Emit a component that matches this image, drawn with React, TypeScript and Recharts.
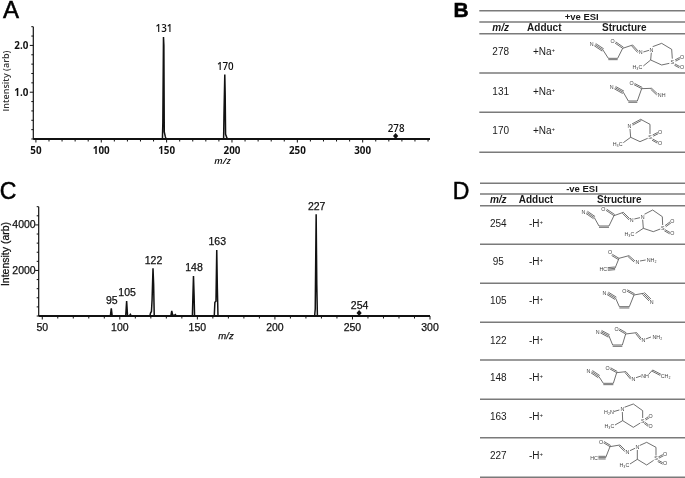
import { LineChart, Line, XAxis, YAxis } from 'recharts';

const FONT = '"Liberation Sans", Arial, sans-serif';
const FONT_A = '"Open Sans", Arial, sans-serif';
const INK = '#111';

// Panel A spectrum
const mzA = [48, 146.8, 147.1, 147.6, 147.9, 148.2, 149, 149.6, 193.6, 193.9, 194.5, 194.8, 195.1, 195.9, 196.5, 325.2, 351.5];
const intensityA = [0, 0, 0.35, 2.18, 2.0, 0.15, 0.05, 0, 0, 0.55, 1.38, 0.95, 0.1, 0.04, 0, 0, 0];
const labelsA = ['', '', '', '131', '', '', '', '', '', '', '170', '', '', '', '', '278', ''];
const markerA = [325.2];

// Panel C spectrum
const mzC = [47.7, 93.9, 94.5, 95.1, 103.8, 104.4, 105, 106.2, 106.8, 107.4, 119.4, 119.8, 120.4, 120.8, 121.4, 121.8, 122.2, 132.9, 133.5, 134.1, 135.2, 135.8, 136.4, 146.8, 147.1, 147.5, 147.9, 148.2, 160.9, 161.3, 162, 162.5, 162.9, 163.3, 225.6, 226, 226.6, 227, 227.4, 254.3, 300];
const intensityC = [0, 0, 340, 0, 0, 660, 0, 0, 70, 0, 0, 130, 200, 700, 2100, 1400, 0, 0, 220, 30, 30, 60, 0, 0, 800, 1760, 900, 0, 0, 600, 650, 2900, 1200, 0, 0, 300, 4470, 1400, 0, 0, 0];
const labelsC = ['', '', '95', '', '', '105', '', '', '', '', '', '', '', '', '122', '', '', '', '', '', '', '', '', '', '', '148', '', '', '', '', '', '163', '', '', '', '', '227', '', '', '254', ''];
const markerC = [254.3];

// axis ticks
const xTicksA = [50, 60, 70, 80, 90, 100, 110, 120, 130, 140, 150, 160, 170, 180, 190, 200, 210, 220, 230, 240, 250, 260, 270, 280, 290, 300, 310, 320, 330, 340, 350];
const xMajorA = [50, 100, 150, 200, 250, 300];
const yTicksA = [0, 0.2, 0.4, 0.6, 0.8, 1, 1.2, 1.4, 1.6, 1.8, 2, 2.2, 2.4];
const yMajorA = [1, 2];
const xTicksC = [50, 60, 70, 80, 90, 100, 110, 120, 130, 140, 150, 160, 170, 180, 190, 200, 210, 220, 230, 240, 250, 260, 270, 280, 290, 300];
const xMajorC = [50, 100, 150, 200, 250, 300];
const yTicksC = [0, 400, 800, 1200, 1600, 2000, 2400, 2800, 3200, 3600, 4000, 4400, 4800];
const yMajorC = [2000, 4000];

// Table text
const rowsB = [['278', '+Na'], ['131', '+Na'], ['170', '+Na']];
const rowsD = [['254', '-H'], ['95', '-H'], ['105', '-H'], ['122', '-H'], ['148', '-H'], ['163', '-H'], ['227', '-H']];
const rowYB = [51.7, 91, 130.7];
const rowYD = [223.3, 261.7, 300.7, 340, 377.7, 416.7, 455];
const linesB = [10.7, 22, 33.7, 73, 112.3, 152.3];
const linesD = [183.3, 194, 205.7, 244.3, 283.3, 322.3, 360, 399.3, 437.7, 477.3];

// Structure drawings: bonds are [x1, y1, x2, y2, order] at 3x scale inside a crop origin
type Bond = number[];
type Atom = [string, number, number];
type Mol = { ox: number; oy: number; bonds: Bond[]; atoms: Atom[] };

const mols: Mol[] = [
  { ox: 580, oy: 30, bonds: [[45, 44, 69, 60, 3], [69, 60, 85, 85, 1], [85, 85, 113, 85, 2], [113, 85, 128, 55, 1], [128, 55, 105, 39, 2], [128, 55, 158, 45, 1], [158, 45, 176, 65, 2], [190, 66, 207, 61, 1], [218, 50, 245, 40, 1], [245, 40, 275, 58, 1], [275, 58, 277, 86, 1], [268, 100, 245, 105, 1], [245, 105, 212, 90, 1], [212, 90, 214, 68, 1], [212, 90, 190, 108, 1], [285, 90, 300, 82, 2], [285, 102, 300, 110, 2]],
    atoms: [['N', 35, 43], ['O', 98, 33], ['N', 182, 67], ['N', 214, 59], ['S', 277, 96], ['O', 306, 80], ['O', 306, 112], ['H₃C', 172, 111]] },
  { ox: 580, oy: 30, bonds: [[105, 173, 130, 187, 3], [130, 187, 145, 213, 1], [145, 213, 172, 213, 2], [172, 213, 185, 176, 1], [185, 176, 162, 164, 2], [185, 176, 215, 175, 1], [215, 175, 233, 192, 2]],
    atoms: [['N', 95, 172], ['O', 155, 160], ['NH', 245, 195]] },
  { ox: 580, oy: 30, bonds: [[156, 282, 182, 268, 2], [182, 268, 210, 283, 1], [210, 283, 210, 312, 1], [203, 325, 180, 335, 1], [180, 335, 152, 322, 1], [152, 322, 150, 297, 1], [152, 322, 130, 338, 1], [218, 315, 234, 307, 2], [218, 327, 234, 336, 2]],
    atoms: [['N', 148, 288], ['S', 210, 320], ['O', 240, 305], ['O', 240, 340], ['H₃C', 113, 342]] },
  { ox: 575, oy: 205, bonds: [[35, 22, 58, 38, 3], [58, 38, 72, 63, 1], [72, 63, 102, 63, 2], [102, 63, 117, 32, 1], [117, 32, 93, 16, 2], [117, 32, 145, 22, 1], [145, 22, 165, 42, 2], [178, 42, 195, 38, 1], [208, 28, 233, 15, 1], [233, 15, 262, 35, 1], [262, 35, 263, 60, 1], [256, 72, 235, 80, 1], [235, 80, 205, 70, 1], [205, 70, 203, 44, 1], [205, 70, 182, 85, 1], [270, 62, 286, 50, 2], [270, 74, 286, 83, 2]],
    atoms: [['N', 25, 20], ['O', 85, 13], ['N', 170, 44], ['N', 203, 35], ['S', 263, 68], ['O', 292, 48], ['O', 292, 85], ['H₃C', 163, 87]] },
  { ox: 575, oy: 205, bonds: [[112, 148, 132, 160, 2], [132, 160, 120, 190, 1], [120, 190, 98, 192, 3], [132, 160, 162, 152, 1], [162, 152, 180, 168, 2], [195, 168, 212, 165, 1]],
    atoms: [['O', 105, 142], ['HC', 85, 192], ['N', 187, 170], ['NH₂', 230, 165]] },
  { ox: 575, oy: 205, bonds: [[98, 265, 122, 280, 3], [122, 280, 133, 305, 1], [133, 305, 163, 305, 2], [163, 305, 177, 270, 1], [177, 270, 155, 258, 2], [177, 270, 205, 265, 1], [205, 265, 225, 285, 3]],
    atoms: [['N', 88, 265], ['O', 148, 257], ['N', 230, 290]] },
  { ox: 575, oy: 330, bonds: [[78, 5, 102, 18, 3], [102, 18, 113, 45, 1], [113, 45, 142, 45, 2], [142, 45, 152, 12, 1], [152, 12, 131, 0, 2], [152, 12, 185, 8, 1], [185, 8, 200, 27, 2], [212, 27, 228, 21, 1]],
    atoms: [['N', 68, 5], ['O', 125, -3], ['N', 205, 30], ['NH₂', 247, 20]] },
  { ox: 575, oy: 330, bonds: [[50, 125, 72, 140, 3], [72, 140, 85, 160, 1], [85, 160, 115, 160, 2], [115, 160, 125, 128, 1], [125, 128, 105, 117, 2], [125, 128, 153, 125, 1], [153, 125, 170, 145, 2], [183, 143, 198, 138, 1], [220, 134, 233, 120, 1], [233, 120, 258, 133, 2]],
    atoms: [['N', 40, 123], ['O', 98, 113], ['N', 175, 147], ['NH', 210, 137], ['CH₂', 272, 137]] },
  { ox: 575, oy: 330, bonds: [[115, 245, 133, 240, 1], [148, 232, 175, 222, 1], [175, 222, 203, 242, 1], [203, 242, 203, 264, 1], [196, 279, 175, 292, 1], [175, 292, 143, 272, 1], [143, 272, 142, 246, 1], [143, 272, 120, 285, 1], [210, 267, 222, 259, 2], [210, 277, 222, 286, 2]],
    atoms: [['H₂N', 102, 247], ['N', 142, 238], ['S', 203, 272], ['O', 227, 258], ['O', 227, 288], ['H₃C', 103, 287]] },
  { ox: 575, oy: 330, bonds: [[70, 383, 92, 383, 3], [92, 383, 105, 350, 1], [105, 350, 85, 338, 2], [105, 350, 135, 345, 1], [135, 345, 152, 362, 2], [165, 362, 180, 355, 1], [193, 347, 215, 337, 1], [215, 337, 243, 352, 1], [243, 352, 243, 378, 1], [236, 391, 215, 405, 1], [215, 405, 187, 388, 1], [187, 388, 187, 360, 1], [187, 388, 165, 402, 1], [250, 381, 265, 373, 2], [250, 391, 265, 399, 2]],
    atoms: [['HC', 57, 383], ['O', 78, 335], ['N', 157, 365], ['N', 187, 352], ['S', 243, 385], ['O', 270, 372], ['O', 270, 400], ['H₃C', 148, 405]] },
];

const toRows = (mz: number[], intensity: number[], labels: string[]) =>
  mz.map((m, i) => ({ mz: m, intensity: intensity[i], label: labels[i] }));

// text styles for the two spectra: A is a semi-bold humanist face, C a thickened Arial look
const styleA = { fontFamily: FONT_A, fontWeight: 700, fontSize: 9.8, fill: INK };
const styleC = { fontFamily: FONT, fontWeight: 400, fontSize: 10.5, fill: INK, stroke: INK, strokeWidth: 0.25 };

function xTick(majors: number[], style: any, dy: number) {
  return (props: any) => {
    const { x, y, payload } = props;
    const major = majors.includes(payload.value);
    return (
      <g>
        <line x1={x} y1={y} x2={x} y2={y + (major ? 3.5 : 2.5)} stroke={INK} strokeWidth={1} />
        {major && <text x={x} y={y + dy} textAnchor="middle" {...style}>{payload.value}</text>}
      </g>
    );
  };
}

function yTick(majors: number[], style: any, gap: number, fmt: (v: number) => string) {
  return (props: any) => {
    const { x, y, payload } = props;
    const major = majors.includes(payload.value);
    return (
      <g>
        <line x1={x} y1={y} x2={x - (major ? 3.5 : 2)} y2={y} stroke={INK} strokeWidth={1} />
        {major && <text x={x - gap} y={y + 3.5} textAnchor="end" {...style}>{fmt(payload.value)}</text>}
      </g>
    );
  };
}

function peakDot(markers: number[], style: any) {
  return (props: any) => {
    const { cx, cy, payload, index } = props;
    if (!payload.label) return <g key={index} />;
    const marked = markers.includes(payload.mz);
    return (
      <g key={index}>
        {marked && <path d={`M${cx} ${cy - 6}L${cx + 2.6} ${cy - 3}L${cx} ${cy}L${cx - 2.6} ${cy - 3}Z`} fill={INK} />}
        <text x={cx + 0.5} y={cy - (marked ? 7 : 4.5)} textAnchor="middle" {...style} fontWeight={style === styleA ? 600 : 400}>
          {payload.label}
        </text>
      </g>
    );
  };
}

function SpectrumA() {
  return (
    <LineChart width={440} height={170} data={toRows(mzA, intensityA, labelsA)} margin={{ top: 26.7, right: 10, left: 0, bottom: 0 }}>
      <XAxis dataKey="mz" type="number" domain={[48, 351.5]} ticks={xTicksA} interval={0} height={31} tickLine={false} tickSize={0} tickMargin={0} stroke={INK} strokeWidth={2} tick={xTick(xMajorA, styleA, 14.5)} />
      <YAxis type="number" domain={[0, 2.4]} ticks={yTicksA} interval={0} width={33.3} tickLine={false} tickSize={0} tickMargin={0} stroke={INK} strokeWidth={1.2} tick={yTick(yMajorA, styleA, 5, (v) => v.toFixed(1))} />
      <Line dataKey="intensity" type="linear" stroke={INK} strokeWidth={1.5} isAnimationActive={false} dot={peakDot(markerA, styleA)} activeDot={false} />
      <text transform="translate(9,81) rotate(-90)" textAnchor="middle" fontSize={9} fontWeight={600} fontFamily={FONT_A} fill="#333">Intensity (arb)</text>
      <text x={222.5} y={164} textAnchor="middle" fontSize={9.5} fontWeight={600} fontStyle="italic" fontFamily={FONT_A} fill={INK}>m/z</text>
    </LineChart>
  );
}

function SpectrumC() {
  return (
    <LineChart width={440} height={170} data={toRows(mzC, intensityC, labelsC)} margin={{ top: 31.7, right: 10, left: 0, bottom: 0 }}>
      <XAxis dataKey="mz" type="number" domain={[47.7, 300]} ticks={xTicksC} interval={0} height={29} tickLine={false} tickSize={0} tickMargin={0} stroke={INK} strokeWidth={2} tick={xTick(xMajorC, styleC, 15)} />
      <YAxis type="number" domain={[0, 4800]} ticks={yTicksC} interval={0} width={38.7} tickLine={false} tickSize={0} tickMargin={0} stroke={INK} strokeWidth={1.2} tick={yTick(yMajorC, styleC, 3, (v) => String(v))} />
      <Line dataKey="intensity" type="linear" stroke={INK} strokeWidth={1.5} isAnimationActive={false} dot={peakDot(markerC, styleC)} activeDot={false} />
      <text transform="translate(9,79) rotate(-90)" textAnchor="middle" fontSize={10.5} fontFamily={FONT} fill={INK} stroke={INK} strokeWidth={0.25}>Intensity (arb)</text>
      <text x={226} y={164} textAnchor="middle" fontSize={9.5} fontStyle="italic" fontFamily={FONT} fill={INK} stroke={INK} strokeWidth={0.25}>m/z</text>
    </LineChart>
  );
}

function bondLines(b: Bond, key: number) {
  const [x1, y1, x2, y2, order] = b;
  const len = Math.hypot(x2 - x1, y2 - y1);
  const nx = (-(y2 - y1) / len) * 4;
  const ny = ((x2 - x1) / len) * 4;
  const offsets = order === 3 ? [-1, 0, 1] : order === 2 ? [0, 1] : [0];
  return offsets.map((o) => (
    <line key={`${key}-${o}`} x1={x1 + nx * o} y1={y1 + ny * o} x2={x2 + nx * o} y2={y2 + ny * o} stroke="#444" strokeWidth={2.3} />
  ));
}

function Molecule({ mol }: { mol: Mol }) {
  return (
    <g transform={`translate(${mol.ox},${mol.oy}) scale(0.3333)`}>
      {mol.bonds.map((b, i) => bondLines(b, i))}
      {mol.atoms.map(([t, x, y], i) => (
        <text key={i} x={x} y={y + 6} textAnchor="middle" fontSize={16} fontFamily={FONT} fill="#444" stroke="#fff" strokeWidth={3} paintOrder="stroke">{t}</text>
      ))}
    </g>
  );
}

function Superscript() {
  return <tspan dy={-3} fontSize={6}>+</tspan>;
}

function Tables() {
  const rule = (y: number, x1: number, i: number) => (
    <line key={i} x1={x1} y1={y} x2={685} y2={y} stroke="#7a7a7a" strokeWidth={1.5} />
  );
  const text = { fontFamily: FONT, fill: '#1a1a1a', textAnchor: 'middle' as const };
  const letter = { fontFamily: FONT, fill: '#000', textAnchor: 'middle' as const, stroke: '#000', strokeWidth: 0.5 };
  return (
    <svg width={685} height={478} style={{ position: 'absolute', left: 0, top: 0 }}>
      {linesB.map((y, i) => rule(y, 479.3, i))}
      {linesD.map((y, i) => rule(y, 480, i))}

      <text x={581.7} y={19.5} fontSize={9.5} fontWeight={700} {...text}>+ve ESI</text>
      <text x={500.7} y={31} fontSize={10} fontWeight={700} fontStyle="italic" {...text}>m/z</text>
      <text x={544.3} y={31} fontSize={10} fontWeight={700} {...text}>Adduct</text>
      <text x={624.3} y={31} fontSize={10} fontWeight={700} {...text}>Structure</text>
      {rowsB.map(([mz, adduct], i) => (
        <g key={mz}>
          <text x={500.7} y={rowYB[i] + 3.5} fontSize={10} {...text}>{mz}</text>
          <text x={544} y={rowYB[i] + 3.5} fontSize={10} {...text}>{adduct}<Superscript /></text>
        </g>
      ))}

      <text x={582} y={191.5} fontSize={9.5} fontWeight={700} {...text}>-ve ESI</text>
      <text x={498.3} y={203} fontSize={10} fontWeight={700} fontStyle="italic" {...text}>m/z</text>
      <text x={536} y={203} fontSize={10} fontWeight={700} {...text}>Adduct</text>
      <text x={619.3} y={203} fontSize={10} fontWeight={700} {...text}>Structure</text>
      {rowsD.map(([mz, adduct], i) => (
        <g key={mz}>
          <text x={498.3} y={rowYD[i] + 3.5} fontSize={10} {...text}>{mz}</text>
          <text x={536} y={rowYD[i] + 3.5} fontSize={10} {...text}>{adduct}<Superscript /></text>
        </g>
      ))}

      {mols.map((m, i) => <Molecule key={i} mol={m} />)}

      <text x={11} y={18} fontSize={24} {...letter}>A</text>
      <text x={461} y={17} fontSize={21} fontWeight={700} {...letter}>B</text>
      <text x={8} y={199} fontSize={23} {...letter}>C</text>
      <text x={461} y={199} fontSize={23} {...letter}>D</text>
    </svg>
  );
}

export default function App() {
  return (
    <div style={{ position: 'absolute', left: 0, top: 0, width: 685, height: 478, background: '#fff', overflow: 'hidden', filter: 'blur(0.4px)' }}>
      <div style={{ position: 'absolute', left: 0, top: 0 }}><SpectrumA /></div>
      <div style={{ position: 'absolute', left: 0, top: 175 }}><SpectrumC /></div>
      <Tables />
    </div>
  );
}
